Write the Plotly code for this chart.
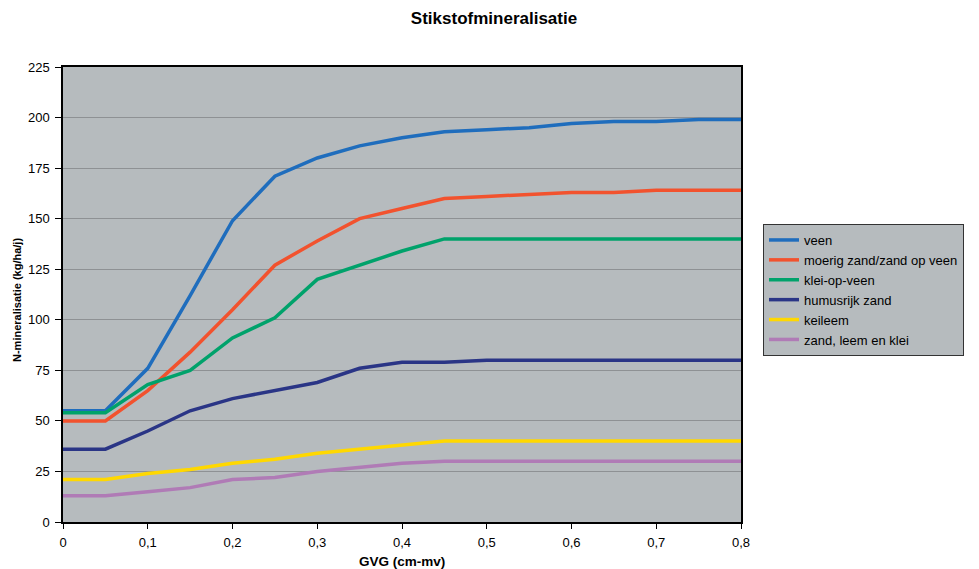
import plotly.graph_objects as go

# GVG (cm-mv) sample points
gvg = [0.0, 0.05, 0.1, 0.15, 0.2, 0.25, 0.3, 0.35, 0.4, 0.45,
       0.5, 0.55, 0.6, 0.65, 0.7, 0.75, 0.8]

# N-mineralisatie (kg/ha/j) per grondsoort
veen = [55, 55, 76, 112, 149, 171, 180, 186, 190, 193, 194, 195, 197, 198, 198, 199, 199]
moerig_zand = [50, 50, 65, 84, 105, 127, 139, 150, 155, 160, 161, 162, 163, 163, 164, 164, 164]
klei_op_veen = [54, 54, 68, 75, 91, 101, 120, 127, 134, 140, 140, 140, 140, 140, 140, 140, 140]
humusrijk_zand = [36, 36, 45, 55, 61, 65, 69, 76, 79, 79, 80, 80, 80, 80, 80, 80, 80]
keileem = [21, 21, 24, 26, 29, 31, 34, 36, 38, 40, 40, 40, 40, 40, 40, 40, 40]
zand_leem_klei = [13, 13, 15, 17, 21, 22, 25, 27, 29, 30, 30, 30, 30, 30, 30, 30, 30]

series = [
    ("veen", veen, "#1F6DBD"),
    ("moerig zand/zand op veen", moerig_zand, "#F2522E"),
    ("klei-op-veen", klei_op_veen, "#00A26B"),
    ("humusrijk zand", humusrijk_zand, "#2A3586"),
    ("keileem", keileem, "#FFD800"),
    ("zand, leem en klei", zand_leem_klei, "#B07BB6"),
]

x_ticks = [0, 0.1, 0.2, 0.3, 0.4, 0.5, 0.6, 0.7, 0.8]
y_ticks = [0, 25, 50, 75, 100, 125, 150, 175, 200, 225]

bg = "#B6BBBE"
font = "Liberation Sans, Arial, sans-serif"

W, H = 979, 569
L, R, T, B = 63, 238, 67, 47
PW, PH = W - L - R, H - T - B

fig = go.Figure()
for name, vals, color in series:
    fig.add_trace(go.Scatter(
        x=gvg, y=vals, name=name, mode="lines",
        line=dict(color=color, width=3.5),
    ))

fig.update_layout(
    width=W, height=H,
    margin=dict(l=L, r=R, t=T, b=B),
    paper_bgcolor="white",
    plot_bgcolor=bg,
    separators=",.",
    font=dict(family=font, size=13, color="black"),
    title=dict(
        text="<b>Stikstofmineralisatie</b>",
        x=494 / W, xanchor="center", xref="container",
        y=1 - 18 / H, yanchor="middle",
        font=dict(size=17, family=font, color="black"),
    ),
    showlegend=True,
    legend=dict(
        x=(763 - L) / PW, xanchor="left",
        y=(H - B - 224) / PH, yanchor="top",
        bgcolor=bg, bordercolor="#333333", borderwidth=1,
        font=dict(size=13, family=font, color="black"),
        itemwidth=30,
        tracegroupgap=0,
    ),
    xaxis=dict(
        range=[0, 0.8], tickvals=x_ticks,
        showgrid=False, zeroline=False, automargin=False,
        showline=True, linecolor="black", linewidth=1.5, mirror=True,
        ticks="outside", ticklen=5, tickcolor="black",
        ticklabelstandoff=3,
        tickfont=dict(size=13),
    ),
    yaxis=dict(
        range=[0, 225], tickvals=y_ticks,
        showgrid=True, gridcolor="#8E9194", gridwidth=1,
        zeroline=False, automargin=False,
        showline=True, linecolor="black", linewidth=1.5, mirror=True,
        ticks="outside", ticklen=6, tickcolor="black",
        ticklabelstandoff=3,
        tickfont=dict(size=13),
    ),
    annotations=[
        dict(text="<b>GVG (cm-mv)</b>", xref="paper", yref="paper",
             x=0.5, y=-(561 - (H - B)) / PH, xanchor="center", yanchor="middle",
             showarrow=False, font=dict(size=13.5)),
        dict(text="<b>N-mineralisatie (kg/ha/j)</b>", xref="paper", yref="paper",
             x=-(L - 17) / PW, y=(H - B - 300) / PH, xanchor="center", yanchor="middle",
             textangle=-90, showarrow=False, font=dict(size=11)),
    ],
)

fig.write_html("out.html")
